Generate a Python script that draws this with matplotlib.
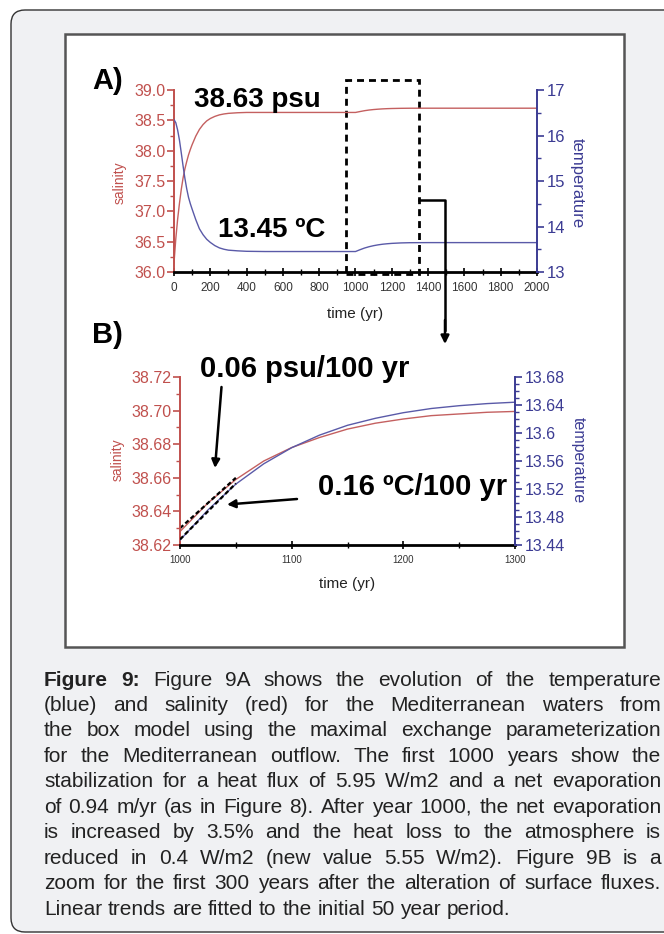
import matplotlib
matplotlib.use('Agg')
import matplotlib.pyplot as plt
from matplotlib.patches import FancyBboxPatch, Rectangle
from matplotlib.lines import Line2D
from matplotlib.ticker import MultipleLocator, FuncFormatter

plt.rcParams['font.family'] = ['Liberation Sans', 'DejaVu Sans']

RED = '#c0504d'
BLUE = '#3b3b93'
RED_LINE = '#c46060'
BLUE_LINE = '#5a5aa8'

# panel A: full run, 0-2000 yr
years_a = [0, 10, 20, 30, 40, 50, 60, 70, 80, 90, 100, 120, 140, 160, 180, 200,
           225, 250, 275, 300, 350, 400, 500, 1000,
           1025, 1050, 1075, 1100, 1125, 1150, 1175, 1200, 1250, 1300, 1400, 2000]
salinity_a = [36.15, 36.55, 36.87, 37.13, 37.36, 37.55, 37.70, 37.82, 37.93, 38.02,
              38.10, 38.24, 38.35, 38.43, 38.49, 38.53, 38.565, 38.59, 38.605, 38.615,
              38.625, 38.63, 38.63, 38.63,
              38.645, 38.659, 38.670, 38.678, 38.684, 38.689, 38.6925, 38.695, 38.698,
              38.6995, 38.70, 38.70]
temperature_a = [16.35, 16.28, 16.12, 15.90, 15.62, 15.33, 15.06, 14.83, 14.64, 14.50,
                 14.38, 14.15, 13.95, 13.82, 13.72, 13.65, 13.58, 13.53, 13.50, 13.48,
                 13.465, 13.455, 13.45, 13.45,
                 13.49, 13.527, 13.556, 13.579, 13.597, 13.611, 13.621, 13.629, 13.639,
                 13.644, 13.646, 13.646]

# panel B: zoom 1000-1300 yr
years_b = [1000, 1025, 1050, 1075, 1100, 1125, 1150, 1175, 1200, 1225, 1250, 1275, 1300]
salinity_b = [38.628, 38.645, 38.659, 38.670, 38.678, 38.684, 38.689, 38.6925, 38.695,
              38.697, 38.698, 38.699, 38.6995]
temperature_b = [13.447, 13.49, 13.527, 13.556, 13.579, 13.597, 13.611, 13.621, 13.629,
                 13.635, 13.639, 13.642, 13.644]

# linear trends over the first 50 years
trend_years = [1000, 1050]
salinity_trend = [38.630, 38.660]
temperature_trend = [13.448, 13.528]

caption_lines = [
    'Figure 9: Figure 9A shows the evolution of the temperature',
    '(blue) and salinity (red) for the Mediterranean waters from',
    'the box model using the maximal exchange parameterization',
    'for the Mediterranean outflow. The first 1000 years show the',
    'stabilization for a heat flux of 5.95 W/m2 and a net evaporation',
    'of 0.94 m/yr (as in Figure 8). After year 1000, the net evaporation',
    'is increased by 3.5% and the heat loss to the atmosphere is',
    'reduced in 0.4 W/m2 (new value 5.55 W/m2). Figure 9B is a',
    'zoom for the first 300 years after the alteration of surface fluxes.',
    'Linear trends are fitted to the initial 50 year period.',
]

W, H = 664, 934


def fx(px):
    return px / W


def fy(py):
    return 1 - py / H


def style_axes(ax, axr, left_size, right_size, bottom_size):
    for s in ['top', 'right']:
        ax.spines[s].set_visible(False)
    for s in ['top', 'left', 'bottom']:
        axr.spines[s].set_visible(False)
    ax.spines['left'].set_color(RED)
    ax.spines['left'].set_linewidth(1.4)
    ax.spines['bottom'].set_color('black')
    ax.spines['bottom'].set_linewidth(2)
    axr.spines['right'].set_color(BLUE)
    axr.spines['right'].set_linewidth(1.4)
    ax.tick_params(axis='y', which='major', colors=RED, direction='out', length=5,
                   width=1.2, pad=1, labelsize=left_size)
    ax.tick_params(axis='y', which='minor', colors=RED, direction='out', length=3, width=1)
    ax.tick_params(axis='x', which='major', direction='inout', length=6, width=1.2,
                   pad=4, labelsize=bottom_size, labelcolor='#333333')
    ax.tick_params(axis='x', which='minor', direction='inout', length=4, width=1)
    axr.tick_params(axis='y', which='major', colors=BLUE, direction='out', length=5,
                    width=1.2, pad=2, labelsize=right_size)
    axr.tick_params(axis='y', which='minor', colors=BLUE, direction='out', length=3, width=1)
    ax.patch.set_visible(False)
    axr.patch.set_visible(False)


fig = plt.figure(figsize=(W / 100, H / 100), dpi=100)

# page background: rounded grey panel and white figure box
panel = FancyBboxPatch((11 / 100, 2 / 100), 700 / 100, (H - 12) / 100,
                       boxstyle='round,pad=0,rounding_size=0.14',
                       transform=fig.dpi_scale_trans, facecolor='#f0f1f3',
                       edgecolor='#333333', linewidth=1.0, zorder=-10)
fig.add_artist(panel)
inner = Rectangle((fx(65), fy(647)), fx(624) - fx(65), fy(34) - fy(647),
                  transform=fig.transFigure, facecolor='white', edgecolor='#555555',
                  linewidth=1.8, zorder=-9)
fig.add_artist(inner)

# ---- panel A ----
ax1 = fig.add_axes([fx(174), fy(272), fx(537) - fx(174), fy(90) - fy(272)])
ax1r = ax1.twinx()
ax1.plot(years_a, salinity_a, color=RED_LINE, lw=1.0)
ax1r.plot(years_a, temperature_a, color=BLUE_LINE, lw=1.0)
ax1.set_xlim(0, 2000)
ax1.set_ylim(36.0, 39.0)
ax1r.set_ylim(13, 17)
ax1.xaxis.set_major_locator(MultipleLocator(200))
ax1.xaxis.set_minor_locator(MultipleLocator(100))
ax1.yaxis.set_major_locator(MultipleLocator(0.5))
ax1.yaxis.set_minor_locator(MultipleLocator(0.25))
ax1.yaxis.set_major_formatter(FuncFormatter(lambda v, p: '%.1f' % v))
ax1r.yaxis.set_major_locator(MultipleLocator(1))
ax1r.yaxis.set_minor_locator(MultipleLocator(0.5))
style_axes(ax1, ax1r, 11.5, 12, 8.5)
ax1.set_xlabel('time (yr)', fontsize=11, color='#222222')
ax1.xaxis.set_label_coords(0.5, -0.19)
ax1.set_ylabel('salinity', fontsize=10, color=RED)
ax1.yaxis.set_label_coords(-0.13, 0.49)
ax1r.set_ylabel('temperature', fontsize=12, color=BLUE, rotation=270, va='center')
ax1r.yaxis.set_label_coords(1.11, 0.49)

# zoom box around years 950-1350
zoom_box = Rectangle((950, 35.96), 400, 3.20, fill=False, edgecolor='black',
                     linewidth=2, linestyle=(0, (2.5, 1.8)), clip_on=False)
ax1.add_patch(zoom_box)

# ---- panel B ----
ax2 = fig.add_axes([fx(180), fy(545), fx(515) - fx(180), fy(377) - fy(545)])
ax2r = ax2.twinx()
ax2.plot(years_b, salinity_b, color=RED_LINE, lw=1.0)
ax2r.plot(years_b, temperature_b, color=BLUE_LINE, lw=1.0)
ax2.plot(trend_years, salinity_trend, color='black', lw=1.6, linestyle=(0, (2, 1.2)))
ax2r.plot(trend_years, temperature_trend, color='black', lw=1.6, linestyle=(0, (2, 1.2)))
ax2.set_xlim(1000, 1300)
ax2.set_ylim(38.62, 38.72)
ax2r.set_ylim(13.44, 13.68)
ax2.xaxis.set_major_locator(MultipleLocator(100))
ax2.xaxis.set_minor_locator(MultipleLocator(50))
ax2.yaxis.set_major_locator(MultipleLocator(0.02))
ax2.yaxis.set_minor_locator(MultipleLocator(0.01))
ax2.yaxis.set_major_formatter(FuncFormatter(lambda v, p: '%.2f' % v))
ax2r.yaxis.set_major_locator(MultipleLocator(0.04))
ax2r.yaxis.set_minor_locator(MultipleLocator(0.01))
ax2r.yaxis.set_major_formatter(FuncFormatter(lambda v, p: '%g' % round(v, 2)))
style_axes(ax2, ax2r, 11.5, 11.5, 7)
ax2.set_xlabel('time (yr)', fontsize=11, color='#222222')
ax2.xaxis.set_label_coords(0.5, -0.19)
ax2.set_ylabel('salinity', fontsize=10, color=RED)
ax2.yaxis.set_label_coords(-0.164, 0.506)
ax2r.set_ylabel('temperature', fontsize=11.5, color=BLUE, rotation=270, va='center')
ax2r.yaxis.set_label_coords(1.19, 0.506)

# panel letters and annotations
fig.text(fx(92), fy(81), 'A)', fontsize=21, fontweight='bold', va='center', ha='left')
fig.text(fx(92), fy(335), 'B)', fontsize=21, fontweight='bold', va='center', ha='left')
fig.text(fx(194), fy(100), '38.63 psu', fontsize=20, fontweight='bold', va='center', ha='left')
fig.text(fx(218), fy(230), '13.45 ºC', fontsize=20, fontweight='bold', va='center', ha='left')
fig.text(fx(200), fy(369), '0.06 psu/100 yr', fontsize=21, fontweight='bold',
         va='center', ha='left')
fig.text(fx(318), fy(487), '0.16 ºC/100 yr', fontsize=21, fontweight='bold',
         va='center', ha='left')

# connector from the zoom box down to panel B
fig.add_artist(Line2D([fx(419), fx(445), fx(445)], [fy(200), fy(200), fy(330)],
                      transform=fig.transFigure, color='black', lw=1.8))
arrow = dict(arrowstyle='-|>', color='black', lw=1.8, shrinkA=0, shrinkB=0,
             mutation_scale=12)
ax1.annotate('', xy=(fx(445), fy(344)), xytext=(fx(445), fy(320)),
             xycoords='figure fraction', textcoords='figure fraction',
             arrowprops=arrow, annotation_clip=False)
ax2.annotate('', xy=(fx(215), fy(468)), xytext=(fx(221.5), fy(387)),
             xycoords='figure fraction', textcoords='figure fraction', arrowprops=arrow,
             annotation_clip=False)
ax2.annotate('', xy=(fx(227), fy(504.5)), xytext=(fx(297), fy(499)),
             xycoords='figure fraction', textcoords='figure fraction', arrowprops=arrow,
             annotation_clip=False)

# justified caption
renderer = fig.canvas.get_renderer()
left_px, right_px = 44, 661
first_y = 680
line_gap = 25.45
for i, line in enumerate(caption_lines):
    words = line.split(' ')
    last = (i == len(caption_lines) - 1)
    size = 15.0
    while True:
        texts = []
        for j, word in enumerate(words):
            bold = (i == 0 and j < 2)
            t = fig.text(0, fy(first_y + i * line_gap), word, fontsize=size,
                         fontweight='bold' if bold else 'normal', color='#222222',
                         va='center', ha='left')
            texts.append(t)
        widths = [t.get_window_extent(renderer).width for t in texts]
        min_space = size * 0.2 * 100 / 72
        if last or sum(widths) + min_space * (len(words) - 1) <= right_px - left_px:
            break
        for t in texts:
            t.remove()
        size -= 0.25
    if last:
        space = size * 0.278 * 100 / 72
    else:
        space = (right_px - left_px - sum(widths)) / (len(words) - 1)
    x = left_px
    for t, w in zip(texts, widths):
        t.set_x(fx(x))
        x += w + space

fig.savefig('out.png', dpi=100)
